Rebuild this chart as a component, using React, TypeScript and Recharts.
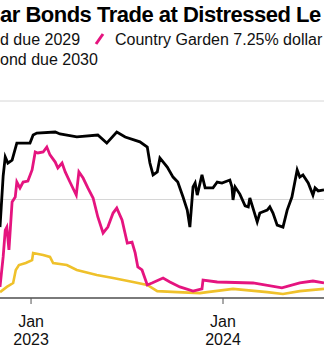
import React from "react";
import { LineChart, Line, XAxis, YAxis, CartesianGrid } from "recharts";

// Black series (bond due 2029), cents on the dollar
const blackDates = [
  "2022-11-03","2022-11-09","2022-11-13","2022-11-18","2022-11-26","2022-12-05","2022-12-30","2023-01-05","2023-01-12",
  "2023-02-16","2023-02-25","2023-03-29","2023-05-08","2023-05-25","2023-06-13","2023-06-29","2023-07-27",
  "2023-08-10","2023-08-15","2023-08-21","2023-08-29","2023-09-03","2023-09-17","2023-09-28","2023-10-07",
  "2023-10-17","2023-10-25","2023-10-30","2023-11-05","2023-11-09","2023-11-13","2023-11-22","2023-11-28",
  "2023-12-13","2023-12-21","2023-12-30","2024-01-14","2024-01-18","2024-01-20","2024-01-24","2024-02-02",
  "2024-02-12","2024-02-18","2024-02-21","2024-02-27","2024-03-06","2024-03-11","2024-03-25","2024-03-30",
  "2024-04-05","2024-04-13","2024-04-24","2024-05-02","2024-05-11","2024-05-21","2024-05-26","2024-06-01",
  "2024-06-11","2024-06-20","2024-06-24","2024-06-30","2024-07-11",
];
const blackValues = [
  28.8, 49.5, 57.3, 54.8, 56.0, 62.9, 62.9, 66.2, 67.0,
  67.4, 66.6, 65.4, 66.2, 62.9, 67.4, 65.4, 63.4,
  61.3, 54.8, 50.0, 51.2, 56.9, 53.2, 49.1, 47.1,
  41.0, 35.7, 28.8, 45.1, 46.7, 41.8, 50.0, 44.7,
  44.7, 47.1, 46.7, 47.9, 45.1, 39.8, 45.1, 42.2,
  37.4, 37.0, 40.6, 36.5, 30.9, 34.5, 35.7, 37.0,
  34.5, 29.6, 28.8, 35.7, 41.0, 52.0, 49.1, 50.0,
  46.7, 41.8, 44.7, 43.5, 43.9,
];

// Country Garden 7.25% dollar bond
const pinkDates = [
  "2022-11-03","2022-11-09","2022-11-13","2022-11-16","2022-11-20","2022-11-26","2022-12-02","2022-12-05",
  "2022-12-11","2022-12-17","2022-12-26","2023-01-03","2023-01-09","2023-01-14","2023-01-24","2023-01-31",
  "2023-02-06","2023-02-16","2023-02-21","2023-03-01","2023-03-07","2023-03-16","2023-03-28","2023-04-02",
  "2023-04-10","2023-04-19","2023-04-29","2023-05-08","2023-05-18","2023-05-27","2023-06-06","2023-06-13",
  "2023-06-23","2023-07-03","2023-07-12","2023-07-18","2023-07-23","2023-07-31","2023-08-10","2023-08-19",
  "2023-09-09","2023-09-22","2023-10-11","2023-11-05","2023-11-22","2023-11-24","2023-12-21","2024-02-27",
  "2024-04-22","2024-05-26","2024-06-20","2024-07-11",
];
const pinkValues = [
  4.5, 16.7, 27.6, 28.8, 19.5, 39.0, 41.0, 47.1,
  44.7, 47.1, 47.5, 52.0, 59.3, 58.9, 59.3, 61.3,
  58.1, 55.2, 52.8, 54.8, 51.2, 47.1, 41.8, 51.2,
  48.7, 44.7, 40.6, 32.9, 26.4, 28.8, 34.5, 36.5,
  31.7, 22.3, 22.7, 18.3, 12.6, 11.4, 5.3, 6.1,
  8.1, 6.5, 4.5, 2.8, 3.7, 7.3, 6.5, 6.1,
  4.1, 6.1, 6.9, 6.1,
];

// Yellow series (bond due 2030)
const yellowDates = [
  "2022-11-03","2022-11-16","2022-11-28","2022-12-03","2022-12-09","2022-12-22","2023-01-03","2023-01-05","2023-01-24",
  "2023-02-06","2023-02-12","2023-03-10","2023-03-29","2023-05-06","2023-06-06","2023-07-14","2023-08-10",
  "2023-08-29","2023-10-06","2023-11-18","2023-12-02","2024-01-20","2024-03-25","2024-04-24","2024-05-26",
  "2024-07-11",
];
const yellowValues = [
  2.4, 4.5, 6.1, 11.4, 13.4, 14.2, 15.4, 18.3, 17.5,
  16.7, 14.2, 13.4, 11.4, 9.3, 8.1, 6.5, 5.3,
  2.8, 2.4, 2.0, 2.4, 3.7, 2.4, 1.6, 2.8,
  3.7,
];

const xTickDates = ["2023-01-01", "2024-01-01"];
const xTickMonth = ["Jan", "Jan"];
const xTickYear = ["2023", "2024"];
const yTicks = [0, 40, 80];

const domainStart = "2022-11-03";
const domainEnd = "2024-07-11";

const titleText = "ar Bonds Trade at Distressed Le";
const legendRow1Left = "d due 2029";
const legendPink = "Country Garden 7.25% dollar";
const legendRow2 = "ond due 2030";

const toSeries = (dates: string[], values: number[]) =>
  dates.map((d, i) => ({ t: Date.parse(d), v: values[i] }));

const blackData = toSeries(blackDates, blackValues);
const pinkData = toSeries(pinkDates, pinkValues);
const yellowData = toSeries(yellowDates, yellowValues);
const tickTimes = xTickDates.map((d) => Date.parse(d));

const FONT = "'Liberation Sans', Arial, Helvetica, sans-serif";

const Tick = (props: any) => {
  const { x, y, payload } = props;
  const idx = tickTimes.indexOf(payload.value);
  return (
    <g>
      <text x={x} y={y + 21} textAnchor="middle" fontSize={16} fontFamily={FONT} fill="#111">
        {xTickMonth[idx]}
      </text>
      <text x={x} y={y + 39} textAnchor="middle" fontSize={16} fontFamily={FONT} fill="#111">
        {xTickYear[idx]}
      </text>
    </g>
  );
};

export default function App() {
  return (
    <div style={{ position: "absolute", left: 0, top: 0, width: 324, height: 348, overflow: "hidden", background: "#fff" }}>
      <LineChart
        width={324}
        height={348}
        margin={{ top: 101, right: 0, bottom: 0, left: 0 }}
        style={{ position: "absolute", left: 0, top: 0 }}
      >
        <CartesianGrid horizontal vertical={false} stroke="#d6d6d6" strokeWidth={1} />
        <XAxis
          type="number"
          dataKey="t"
          domain={[Date.parse(domainStart), Date.parse(domainEnd)]}
          allowDataOverflow
          ticks={tickTimes}
          height={50}
          tick={<Tick />}
          tickSize={6}
          tickLine={{ stroke: "#555" }}
          axisLine={{ stroke: "#555", strokeWidth: 1.5 }}
          interval={0}
        />
        <YAxis hide domain={[0, 80]} ticks={yTicks} type="number" />
        <Line data={yellowData} dataKey="v" stroke="#efc12b" strokeWidth={2.6} dot={false} isAnimationActive={false} />
        <Line data={pinkData} dataKey="v" stroke="#e5147f" strokeWidth={2.8} dot={false} isAnimationActive={false} />
        <Line data={blackData} dataKey="v" stroke="#000000" strokeWidth={2.8} dot={false} isAnimationActive={false} />
      </LineChart>
      <svg width={324} height={80} style={{ position: "absolute", left: 0, top: 0 }}>
        <text x={0} y={22} fontSize={22} fontWeight="bold" letterSpacing={-0.5} fontFamily={FONT} fill="#000">
          {titleText}
        </text>
        <text x={0} y={44.5} fontSize={16} fontFamily={FONT} fill="#111">
          {legendRow1Left}
        </text>
        <line x1={96} y1={44} x2={103} y2={34} stroke="#e5147f" strokeWidth={3} />
        <text x={115} y={44.5} fontSize={16} fontFamily={FONT} fill="#111">
          {legendPink}
        </text>
        <text x={0} y={64.5} fontSize={16} fontFamily={FONT} fill="#111">
          {legendRow2}
        </text>
      </svg>
    </div>
  );
}
